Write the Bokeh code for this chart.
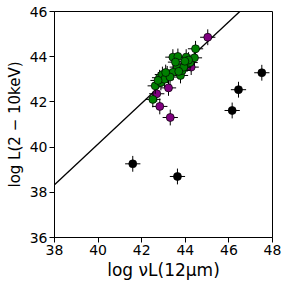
from bokeh.plotting import figure
from bokeh.embed import file_html
from bokeh.resources import INLINE
from bokeh.models import FixedTicker

# data
black_x = [41.59, 43.64, 46.15, 46.44, 47.51]
black_y = [39.26, 38.70, 41.62, 42.54, 43.29]

purple_x = [45.03, 43.23, 42.83, 43.31, 42.69, 44.27]
purple_y = [44.86, 42.62, 41.80, 41.31, 42.36, 43.54]

green_x = [42.51, 42.62, 42.82, 42.88, 42.95, 43.17, 43.43, 43.66, 43.63, 43.44,
           43.78, 43.86, 44.04, 44.09, 44.22, 44.47, 44.42, 43.93, 43.55, 43.05,
           43.30, 43.70, 44.15, 43.98, 42.75, 43.10]
green_y = [42.11, 42.71, 43.07, 42.86, 43.21, 43.24, 43.98, 44.01, 43.54, 43.31,
           43.17, 43.39, 43.98, 43.69, 43.74, 44.35, 43.95, 43.54, 43.76, 43.00,
           43.10, 43.35, 43.85, 43.80, 42.95, 43.30]

err = 0.35

fit_x = [38.0, 46.5]
fit_y = [38.33, 46.0]

x_ticks = [38, 40, 42, 44, 46, 48]
y_ticks = [36, 38, 40, 42, 44, 46]

p = figure(width=287, height=287, x_range=(38, 48), y_range=(36, 46),
           output_backend="svg", toolbar_location=None,
           min_border_left=54, min_border_right=15, min_border_top=11, min_border_bottom=50)
p.grid.visible = False
p.outline_line_color = "black"
p.outline_line_width = 1

for ax in (p.xaxis[0], p.yaxis[0]):
    ax.major_tick_in = 0
    ax.major_tick_out = 5
    ax.minor_tick_line_color = None
    ax.axis_line_color = "black"
    ax.major_tick_line_color = "black"
    ax.major_label_text_font = "DejaVu Sans"
    ax.major_label_text_font_size = "14px"
    ax.major_label_text_color = "black"
    ax.major_label_standoff = 2
    ax.axis_label_text_font = "DejaVu Sans"
    ax.axis_label_text_font_style = "normal"
    ax.axis_label_text_color = "black"
p.xaxis.axis_label_text_font_size = "17px"
p.yaxis.axis_label_text_font_size = "15px"
p.xaxis.ticker = FixedTicker(ticks=x_ticks)
p.yaxis.ticker = FixedTicker(ticks=y_ticks)
p.xaxis.axis_label = "log νL(12μm)"
p.yaxis.axis_label = "log L(2 − 10keV)"
p.xaxis.axis_label_standoff = 2
p.yaxis.axis_label_standoff = 3

p.line(fit_x, fit_y, line_color="black", line_width=1.3)

def draw(xs, ys, color):
    p.segment([x - err for x in xs], ys, [x + err for x in xs], ys, line_color="black", line_width=1)
    p.segment(xs, [y - err for y in ys], xs, [y + err for y in ys], line_color="black", line_width=1)
    p.scatter(xs, ys, size=8, fill_color=color, line_color="black", line_width=0.7)

draw(black_x, black_y, "black")
draw(purple_x, purple_y, "purple")
draw(green_x, green_y, "green")

open("out.html", "w").write(file_html(p, INLINE))
